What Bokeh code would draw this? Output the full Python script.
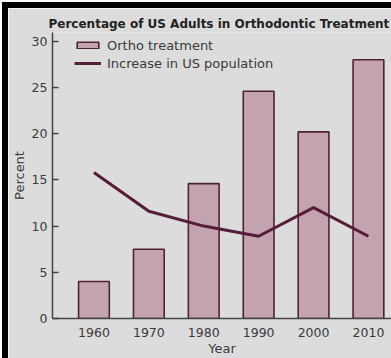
from bokeh.plotting import figure
from bokeh.models import ColumnDataSource, FixedTicker, Legend, LegendItem
from bokeh.embed import file_html
from bokeh.resources import INLINE

# Data
years = [1960, 1970, 1980, 1990, 2000, 2010]
ortho_treatment = [4.0, 7.5, 14.6, 24.6, 20.2, 28.0]
population_increase = [15.8, 11.6, 10.0, 8.9, 12.0, 8.9]
y_ticks = [0, 5, 10, 15, 20, 25, 30]
title_text = "Percentage of US Adults in Orthodontic Treatment"

BG = "#dcdcdc"
BAR_FILL = "#c4a3b1"
BAR_EDGE = "#4e2236"
LINE = "#561d3a"
TEXT = "#3a3a3a"
FONT = "DejaVu Sans"

src = ColumnDataSource(dict(year=years, ortho=ortho_treatment, pop=population_increase))

# The chart sits in a box with a black rule along its top and left edges
p = figure(
    width=389, height=356,
    x_range=(1952.45, 2014.2), y_range=(0, 30.95),
    output_backend="svg", toolbar_location=None,
    min_border_left=44, min_border_right=6, min_border_top=24, min_border_bottom=46,
    background_fill_color=BG, border_fill_color=BG,
    styles={"border-top": "6px solid black", "border-left": "6px solid black",
            "margin-top": "2px", "margin-left": "2px"},
)
p.outline_line_color = None
p.grid.grid_line_color = None

bars = p.vbar(x="year", top="ortho", width=5.6, source=src,
              fill_color=BAR_FILL, line_color=BAR_EDGE, line_width=1.6)
line = p.line(x="year", y="pop", source=src, line_color=LINE, line_width=3,
              line_join="round")

# Title
p.title.text = title_text
p.title.text_font = FONT
p.title.text_font_size = "12px"
p.title.text_font_style = "bold"
p.title.text_color = "#222222"
p.title.align = "left"
p.title.vertical_align = "top"
p.title.offset = -4
p.title.standoff = 0

# Axes
for ax in (p.xaxis[0], p.yaxis[0]):
    ax.axis_line_color = "#444444"
    ax.axis_line_width = 1.5
    ax.major_label_text_font = FONT
    ax.major_label_text_font_size = "12.5px"
    ax.major_label_text_color = TEXT
    ax.axis_label_text_font = FONT
    ax.axis_label_text_font_size = "13px"
    ax.axis_label_text_font_style = "normal"
    ax.axis_label_text_color = TEXT
    ax.minor_tick_line_color = None

p.xaxis.ticker = FixedTicker(ticks=years)
p.xaxis.major_tick_line_color = None
p.xaxis.major_label_standoff = 3
p.xaxis.axis_label = "Year"
p.xaxis.axis_label_standoff = 1

p.yaxis.ticker = FixedTicker(ticks=y_ticks)
p.yaxis.major_tick_in = 6
p.yaxis.major_tick_out = 0
p.yaxis.major_tick_line_color = "#444444"
p.yaxis.major_tick_line_width = 1.5
p.yaxis.major_label_standoff = 5
p.yaxis.axis_label = "Percent"
p.yaxis.axis_label_standoff = 2

# Legend
legend = Legend(
    items=[
        LegendItem(label="Ortho treatment", renderers=[bars]),
        LegendItem(label="Increase in US population", renderers=[line]),
    ],
    location=(22, 246),
    orientation="vertical",
    margin=0, padding=0, spacing=0,
    glyph_width=27, glyph_height=8, label_height=18, label_standoff=6,
    label_text_font=FONT, label_text_font_size="13px", label_text_color=TEXT,
    background_fill_alpha=0, border_line_alpha=0,
)
p.add_layout(legend)

open("out.html", "w").write(file_html(p, INLINE))
